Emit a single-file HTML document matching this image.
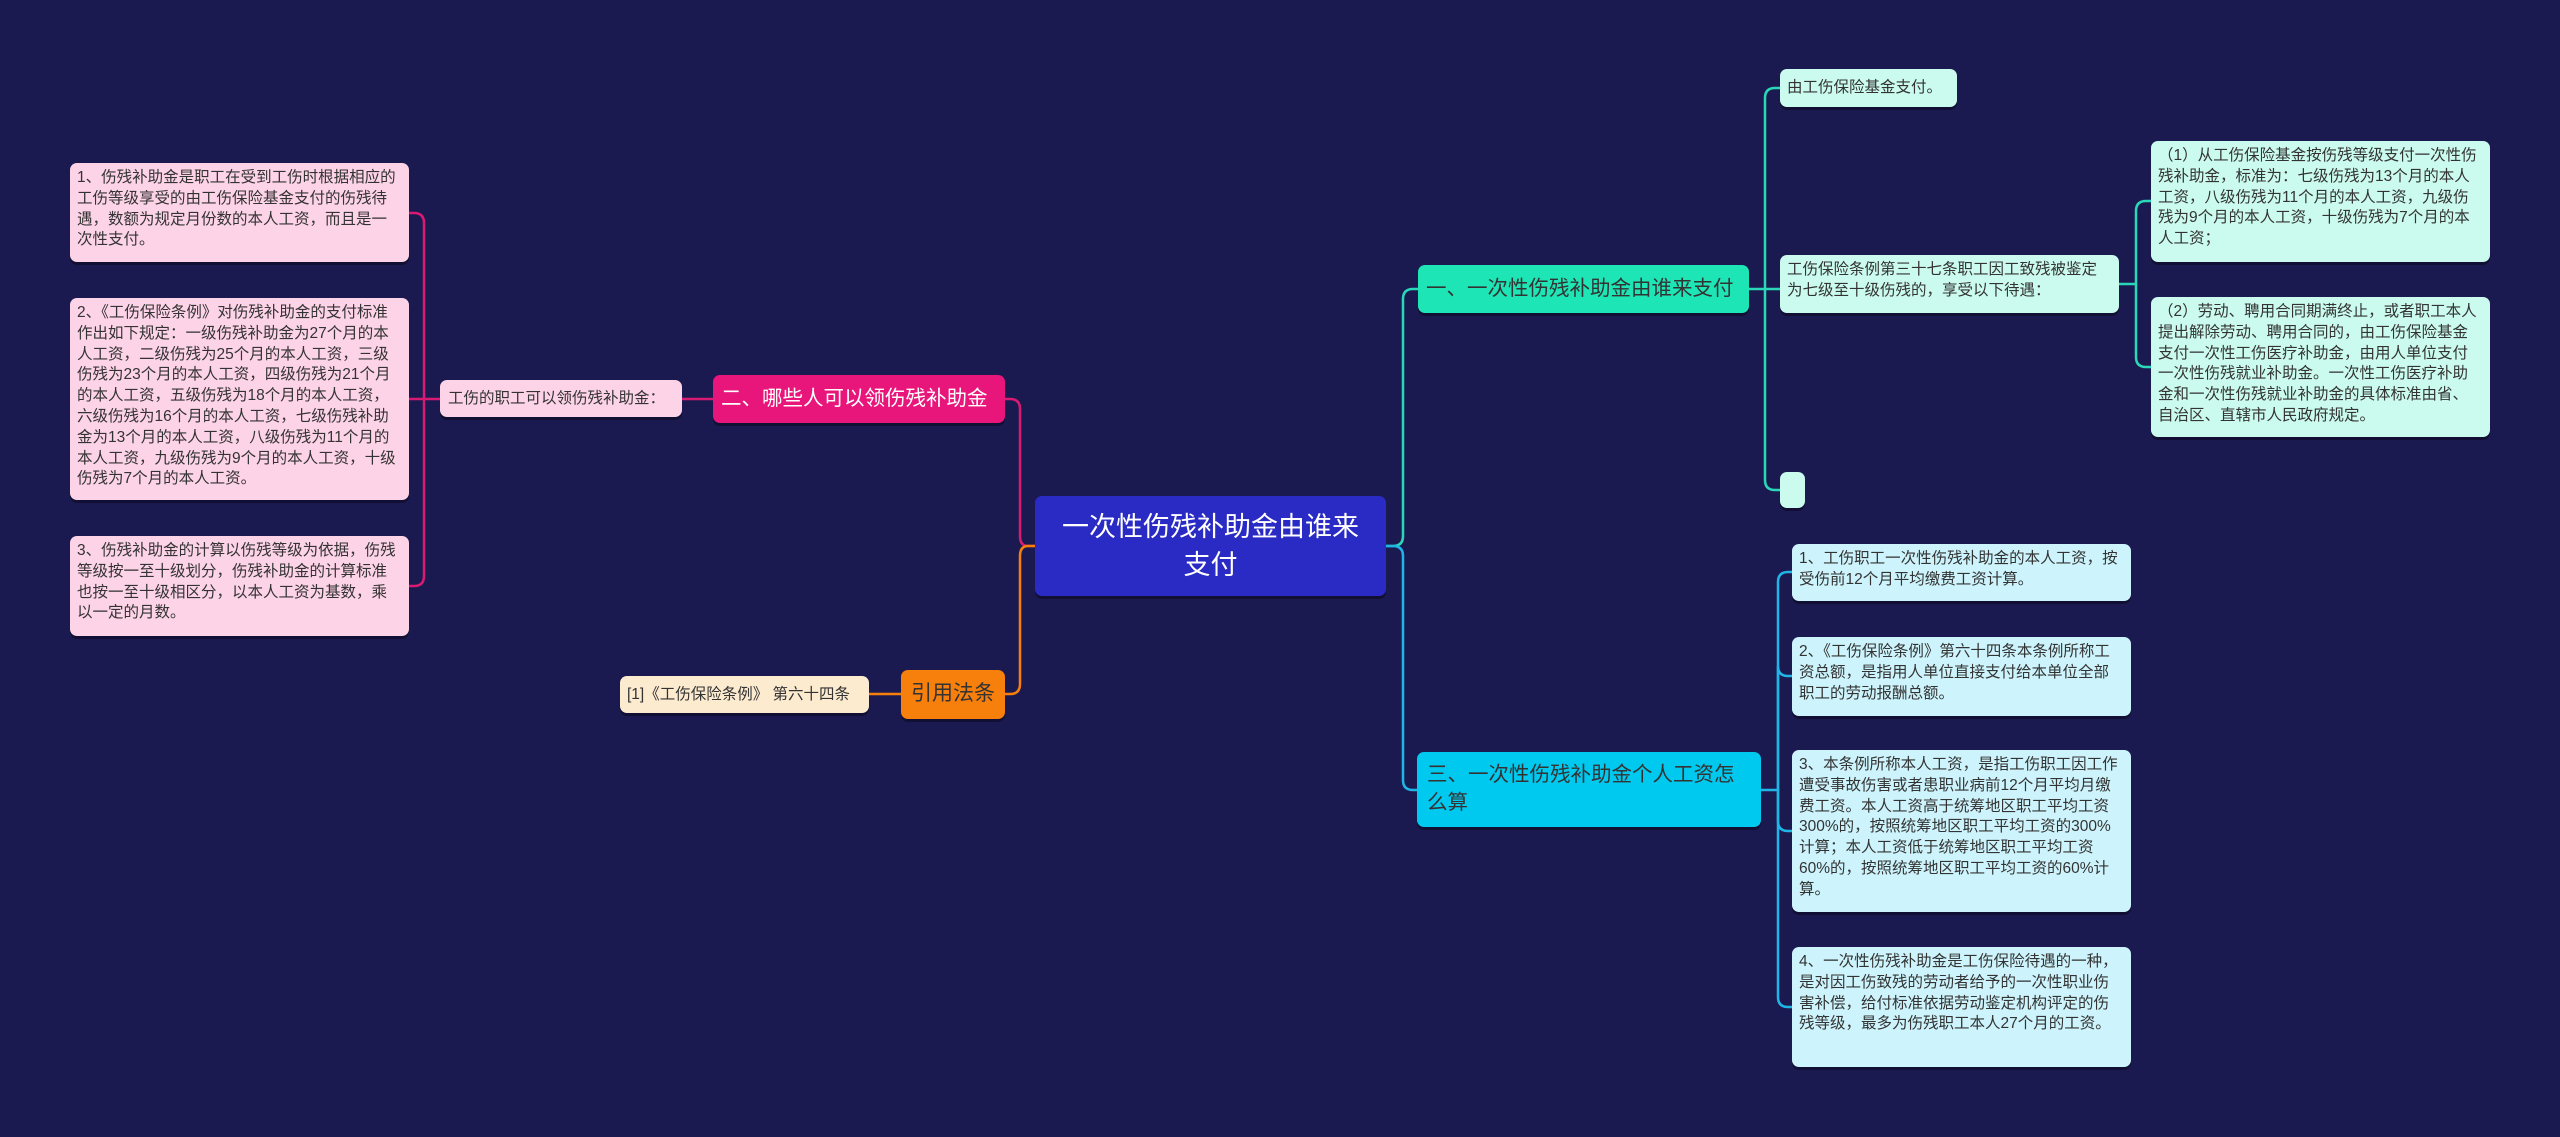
<!DOCTYPE html>
<html><head><meta charset="utf-8"><style>
html,body{margin:0;padding:0}
body{width:2560px;height:1137px;background:#1b1a50;position:relative;overflow:hidden;font-family:"Liberation Sans","Noto Sans CJK SC",sans-serif}
.n{position:absolute;box-sizing:border-box;border-radius:7px;color:#333;font-size:15.5px;line-height:20.8px;padding:5px 7px;box-shadow:0 3px 0 rgba(0,0,0,0.35);overflow:hidden}
.p{background:#fdd3e7}
.m{background:#cbfbee}
.c{background:#cdf4fc}
.h{white-space:nowrap}
svg{position:absolute;left:0;top:0}
</style></head><body>
<svg width="2560" height="1137" fill="none" stroke-width="2.5">
<g stroke="#d81b72">
<path d="M1035,546 H1028 Q1020,546 1020,536 V409 Q1020,399 1010,399 H1005"/>
<path d="M713,399 H682"/>
<path d="M440,399 H409"/>
<path d="M424,399 V223 Q424,213 414,213 H409"/>
<path d="M424,399 V576 Q424,586 414,586 H409"/>
</g>
<g stroke="#f77f0c">
<path d="M1035,546 H1028 Q1020,546 1020,556 V684 Q1020,694 1010,694 H1005"/>
<path d="M901,694 H869"/>
</g>
<g stroke="#2ad8b8">
<path d="M1386,546 H1393 Q1403,546 1403,536 V299 Q1403,289 1413,289 H1418"/>
<path d="M1749,289 H1765 V98 Q1765,88 1775,88 H1780"/>
<path d="M1765,289 H1780"/>
<path d="M1765,289 V480 Q1765,490 1775,490 H1780"/>
<path d="M2119,284 H2136 V211 Q2136,201 2146,201 H2151"/>
<path d="M2136,284 V357 Q2136,367 2146,367 H2151"/>
</g>
<g stroke="#1fb5e6">
<path d="M1386,546 H1393 Q1403,546 1403,556 V780 Q1403,790 1413,790 H1417"/>
<path d="M1761,790 H1778 V582 Q1778,572 1788,572 H1792"/>
<path d="M1778,790 V666 Q1778,676 1788,676 H1792"/>
<path d="M1778,790 V821 Q1778,831 1788,831 H1792"/>
<path d="M1778,790 V997 Q1778,1007 1788,1007 H1792"/>
</g>
</svg>

<div class="n" style="left:1035px;top:496px;width:351px;height:100px;background:#2a2bc4;color:#fff;font-size:27px;line-height:38px;text-align:center;padding:12px 20px">一次性伤残补助金由谁来支付</div>

<div class="n h" style="left:713px;top:375px;width:292px;height:48px;background:#e8157b;color:#fff;font-size:20.5px;line-height:38px;padding:5px 8px">二、哪些人可以领伤残补助金</div>
<div class="n h" style="left:440px;top:380px;width:242px;height:37px;background:#fdd3e7;font-size:15.5px;line-height:27px;padding:5px 8px">工伤的职工可以领伤残补助金：</div>
<div class="n p" style="left:70px;top:163px;width:339px;height:99px;">1、伤残补助金是职工在受到工伤时根据相应的工伤等级享受的由工伤保险基金支付的伤残待遇，数额为规定月份数的本人工资，而且是一次性支付。</div>
<div class="n p" style="left:70px;top:298px;width:339px;height:202px;">2、《工伤保险条例》对伤残补助金的支付标准作出如下规定：一级伤残补助金为27个月的本人工资，二级伤残为25个月的本人工资，三级伤残为23个月的本人工资，四级伤残为21个月的本人工资，五级伤残为18个月的本人工资，六级伤残为16个月的本人工资，七级伤残补助金为13个月的本人工资，八级伤残为11个月的本人工资，九级伤残为9个月的本人工资，十级伤残为7个月的本人工资。</div>
<div class="n p" style="left:70px;top:536px;width:339px;height:100px;">3、伤残补助金的计算以伤残等级为依据，伤残等级按一至十级划分，伤残补助金的计算标准也按一至十级相区分，以本人工资为基数，乘以一定的月数。</div>

<div class="n h" style="left:901px;top:670px;width:104px;height:49px;background:#f77f0c;color:#333;font-size:21px;line-height:38px;text-align:center">引用法条</div>
<div class="n h" style="left:620px;top:676px;width:249px;height:37px;background:#fdebd0;line-height:27px">[1]《工伤保险条例》 第六十四条</div>

<div class="n h" style="left:1418px;top:265px;width:331px;height:48px;background:#1de5b5;font-size:20.5px;line-height:38px;padding:5px 8px">一、一次性伤残补助金由谁来支付</div>
<div class="n m h" style="left:1780px;top:69px;width:177px;height:38px;line-height:28px">由工伤保险基金支付。</div>
<div class="n m" style="left:1780px;top:255px;width:339px;height:58px;">工伤保险条例第三十七条职工因工致残被鉴定为七级至十级伤残的，享受以下待遇：</div>
<div class="n m" style="left:1780px;top:472px;width:25px;height:36px;padding:0"></div>
<div class="n m" style="left:2151px;top:141px;width:339px;height:121px;">（1）从工伤保险基金按伤残等级支付一次性伤残补助金，标准为：七级伤残为13个月的本人工资，八级伤残为11个月的本人工资，九级伤残为9个月的本人工资，十级伤残为7个月的本人工资；</div>
<div class="n m" style="left:2151px;top:297px;width:339px;height:140px;">（2）劳动、聘用合同期满终止，或者职工本人提出解除劳动、聘用合同的，由工伤保险基金支付一次性工伤医疗补助金，由用人单位支付一次性伤残就业补助金。一次性工伤医疗补助金和一次性伤残就业补助金的具体标准由省、自治区、直辖市人民政府规定。</div>

<div class="n" style="left:1417px;top:752px;width:344px;height:75px;background:#00c9ef;font-size:20.5px;line-height:28px;padding:9px 10px">三、一次性伤残补助金个人工资怎么算</div>
<div class="n c" style="left:1792px;top:544px;width:339px;height:57px;">1、工伤职工一次性伤残补助金的本人工资，按受伤前12个月平均缴费工资计算。</div>
<div class="n c" style="left:1792px;top:637px;width:339px;height:79px;">2、《工伤保险条例》第六十四条本条例所称工资总额，是指用人单位直接支付给本单位全部职工的劳动报酬总额。</div>
<div class="n c" style="left:1792px;top:750px;width:339px;height:162px;">3、本条例所称本人工资，是指工伤职工因工作遭受事故伤害或者患职业病前12个月平均月缴费工资。本人工资高于统筹地区职工平均工资300%的，按照统筹地区职工平均工资的300%计算；本人工资低于统筹地区职工平均工资60%的，按照统筹地区职工平均工资的60%计算。</div>
<div class="n c" style="left:1792px;top:947px;width:339px;height:120px;">4、一次性伤残补助金是工伤保险待遇的一种，是对因工伤致残的劳动者给予的一次性职业伤害补偿，给付标准依据劳动鉴定机构评定的伤残等级，最多为伤残职工本人27个月的工资。</div>
</body></html>
